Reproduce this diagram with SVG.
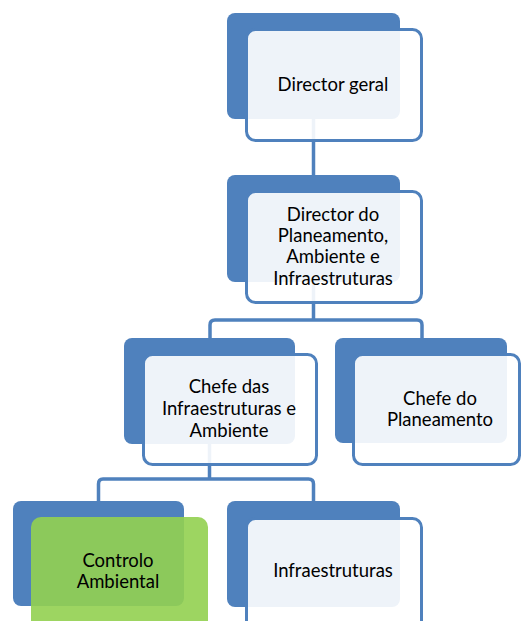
<svg xmlns="http://www.w3.org/2000/svg" width="522" height="621" viewBox="0 0 522 621">
<style>
.back{fill:#4f81bd}
.front{fill:#ffffff;fill-opacity:0.9;stroke:#4f81bd;stroke-width:3}
.green{fill:#92d050;fill-opacity:0.9}
.conn{fill:none;stroke:#4f81bd;stroke-width:3.5;stroke-linejoin:round}
text{font-family:Lato,"Noto Sans",sans-serif;font-size:18.5px;fill:#000;text-anchor:middle}
</style>
<rect width="522" height="621" fill="#ffffff"/>
<g id="connectors">
<path class="conn" d="M313.5 119 V175"/>
<path class="conn" d="M313.5 282 V320 M215 320 H417 Q422 320 422 325 V338 M210 338 V325 Q210 320 215 320"/>
<path class="conn" d="M209.5 444 V479 M103 479 H308.5 Q313.5 479 313.5 484 V501 M98.5 501 V484 Q98.5 479 103 479"/>
</g>
<g id="node-director-geral">
<rect class="back" x="227" y="13" width="173" height="106" rx="8"/>
<rect class="front" x="246.5" y="29.5" width="175" height="111" rx="9"/>
<text x="333" y="91">Director geral</text>
</g>
<g id="node-director-planeamento">
<rect class="back" x="227" y="175" width="173" height="107" rx="8"/>
<rect class="front" x="246.5" y="191.5" width="175" height="111" rx="9"/>
<text x="333" y="221">Director do</text>
<text x="333" y="242">Planeamento,</text>
<text x="333" y="263">Ambiente e</text>
<text x="333" y="285">Infraestruturas</text>
</g>
<g id="node-chefe-infra">
<rect class="back" x="124" y="338" width="171" height="106" rx="8"/>
<rect class="front" x="143.5" y="354.5" width="173" height="110" rx="9"/>
<text x="229" y="393">Chefe das</text>
<text x="229" y="415">Infraestruturas e</text>
<text x="229" y="437">Ambiente</text>
</g>
<g id="node-chefe-planeamento">
<rect class="back" x="335" y="338" width="172" height="105" rx="8"/>
<rect class="front" x="353.5" y="354.5" width="166" height="110" rx="9"/>
<text x="440" y="405">Chefe do</text>
<text x="440" y="426">Planeamento</text>
</g>
<g id="node-controlo-ambiental">
<rect class="back" x="13" y="501" width="171" height="105" rx="8"/>
<rect class="green" x="31" y="517" width="177" height="116" rx="10"/>
<text x="118" y="567">Controlo</text>
<text x="118" y="588">Ambiental</text>
</g>
<g id="node-infraestruturas">
<rect class="back" x="227" y="501" width="173" height="106" rx="8"/>
<rect class="front" x="246.5" y="518.5" width="175" height="111" rx="9"/>
<text x="333" y="577">Infraestruturas</text>
</g>
</svg>
